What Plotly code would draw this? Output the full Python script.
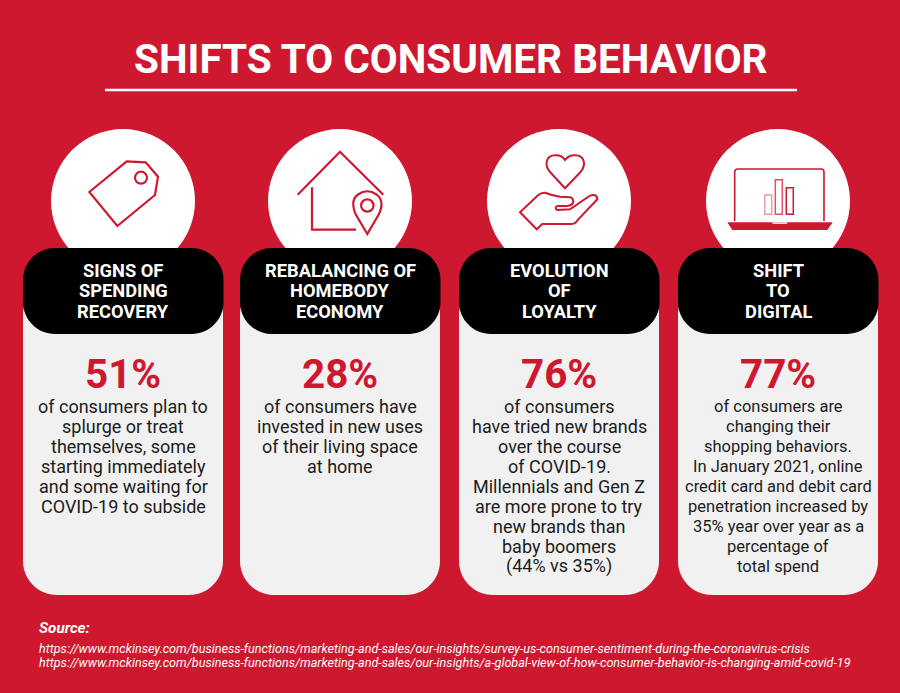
import plotly.graph_objects as go

TITLE = "SHIFTS TO CONSUMER BEHAVIOR"
HEADERS = [["SIGNS OF", "SPENDING", "RECOVERY"],
           ["REBALANCING OF", "HOMEBODY", "ECONOMY"],
           ["EVOLUTION", "OF", "LOYALTY"],
           ["SHIFT", "TO", "DIGITAL"]]
PERCENTS = ["51%", "28%", "76%", "77%"]
BODIES = [
    ["of consumers plan to", "splurge or treat", "themselves, some", "starting immediately",
     "and some waiting for", "COVID-19 to subside"],
    ["of consumers have", "invested in new uses", "of their living space", "at home"],
    ["of consumers", "have tried new brands", "over the course", "of COVID-19.",
     "Millennials and Gen Z", "are more prone to try", "new brands than", "baby boomers", "(44% vs 35%)"],
    ["of consumers are", "changing their", "shopping behaviors.", "In January 2021, online",
     "credit card and debit card", "penetration increased by", "35% year over year as a", "percentage of", "total spend"],
]
BODY_SIZES = [18, 18, 18, 16.5]
SOURCE_LABEL = "Source:"
SOURCES = [
    "https://www.mckinsey.com/business-functions/marketing-and-sales/our-insights/survey-us-consumer-sentiment-during-the-coronavirus-crisis",
    "https://www.mckinsey.com/business-functions/marketing-and-sales/our-insights/a-global-view-of-how-consumer-behavior-is-changing-amid-covid-19",
]
CARD_LEFT = [23, 240, 459, 678]
CARD_WIDTH = 200
CIRCLE_X = [123, 340, 559, 778]

RED = "#CE182F"
GREY = "#F1F1F1"
FONT = "Roboto"


def rrect(x0, y0, x1, y1, r):
    k = r * 0.448
    return (f"M{x0+r},{y0} L{x1-r},{y0} C{x1-k},{y0} {x1},{y0+k} {x1},{y0+r} L{x1},{y1-r} "
            f"C{x1},{y1-k} {x1-k},{y1} {x1-r},{y1} L{x0+r},{y1} C{x0+k},{y1} {x0},{y1-k} {x0},{y1-r} "
            f"L{x0},{y0+r} C{x0},{y0+k} {x0+k},{y0} {x0+r},{y0} Z")


shapes = []
annots = []


def path(d, fill=None, line=RED, w=2.2):
    shapes.append(dict(type="path", path=d, xref="x", yref="y",
                       fillcolor=fill if fill else "rgba(0,0,0,0)",
                       line=dict(color=line if line else "rgba(0,0,0,0)", width=w if line else 0)))


def circle(cx, cy, r, fill=None, line=RED, w=2.2):
    shapes.append(dict(type="circle", xref="x", yref="y", x0=cx-r, x1=cx+r, y0=cy-r, y1=cy+r,
                       fillcolor=fill if fill else "rgba(0,0,0,0)",
                       line=dict(color=line if line else "rgba(0,0,0,0)", width=w if line else 0)))


def text(x, y, s, size, color, bold=False, italic=False, anchor="center"):
    annots.append(dict(x=x, y=y, xref="x", yref="y", text=s, showarrow=False, xanchor=anchor, yanchor="middle",
                       font=dict(family=FONT, size=size, color=color,
                                 weight=700 if bold else 400, style="italic" if italic else "normal"),
                       borderpad=0, borderwidth=0))


# title
text(450.5, 59, TITLE, 40.5, "white", bold=True)
shapes.append(dict(type="line", xref="x", yref="y", x0=105, x1=797, y0=90, y1=90, line=dict(color="white", width=2.5)))

# cards
for i, left in enumerate(CARD_LEFT):
    cx = left + CARD_WIDTH / 2
    circle(CIRCLE_X[i], 201, 72, fill="white", line=None)
    path(rrect(left, 280, left + CARD_WIDTH, 595, 34), fill=GREY, line=None)
    path(rrect(left, 248, left + CARD_WIDTH + 0.5, 334, 32), fill="black", line=None)
    for j, s in enumerate(HEADERS[i]):
        text(cx, 270 + j * 20.7, s, 18.3, "white", bold=True)
    text(cx - 0.5, 374, PERCENTS[i], 40.4, RED, bold=True)
    for j, s in enumerate(BODIES[i]):
        text(cx, 406.2 + j * 20, s, BODY_SIZES[i], "#1c1c1c")

# tag icon
path("M89.3,192 L126.7,161.3 L145.7,162.3 L158,176.7 L155,195 L117.3,226 Z")
circle(141, 177.7, 6)

# house icon
path("M297.7,194.7 L340,151.7 L383.3,194.7")
path("M312,187.3 L312,229.7 L356,229.7")
path("M367.3,234 L355.5,214 Q350,200 358,194.5 Q367.3,188 376.5,194.5 Q385,201 379,214 Z")
circle(367.3, 205.5, 6.2)

# heart icon
path("M565,188.3 L550,172 C544,165 546,155.5 555,155.3 C560,155 563.5,157.5 565,160 "
     "C567,157.5 570.5,155 575.5,155.3 C584.5,155.5 586.5,165 580.5,172 Z", w=2)

# hand icon
path("M520,212.3 L536.7,229.3 L542.3,224 L571.7,224 Q575.5,224 578.3,219.3 L597.3,199.3 Q597,195 593.3,195 "
     "Q590.5,195 588.3,196.7 L570,209.3 L557.7,210 Q555.5,209.5 555.7,207.7 Q556,206 558.3,206 L566.7,206 "
     "Q573,205.5 573.3,201.7 Q573,197.5 570,197.3 L560,196.7 Q552,195.5 545,192.7 Q541,192.5 538.3,195 Z", w=2)

# laptop icon
path("M734.7,221 L734.7,172 Q734.7,169 738,169 L821,169 Q824,169 824,172 L824,221", w=1.6)
path("M727.3,222.3 L832.7,222.3 L827.3,230 L732.3,230 Z", fill=RED, line=None)
path("M771.7,222.3 L788,222.3 L786.5,224 L773,224 Z", fill="#F7DDE0", line=None)
for (x0, y0, color) in [(764.7, 195, "#EB9AA6"), (775.3, 179.7, "#DE5167"), (786.3, 187.7, "#CE182F")]:
    path(f"M{x0},{214.3} L{x0},{y0} L{x0+7},{y0} L{x0+7},{214.3} Z", line=color, w=1.5)

# source
text(39, 628, SOURCE_LABEL, 15.2, "white", bold=True, italic=True, anchor="left")
for j, s in enumerate(SOURCES):
    text(39, 648.5 + j * 14, s, 12.6, "white", italic=True, anchor="left")

fig = go.Figure()
fig.update_layout(
    width=900, height=693, margin=dict(l=0, r=0, t=0, b=0, pad=0),
    paper_bgcolor=RED, plot_bgcolor=RED, showlegend=False,
    xaxis=dict(range=[0, 900], visible=False, fixedrange=True),
    yaxis=dict(range=[693, 0], visible=False, fixedrange=True),
    shapes=shapes, annotations=annots,
)
fig.write_html("out.html", post_script="document.body.style.margin='0';document.body.style.background='%s';" % RED,
               config=dict(displayModeBar=False))
